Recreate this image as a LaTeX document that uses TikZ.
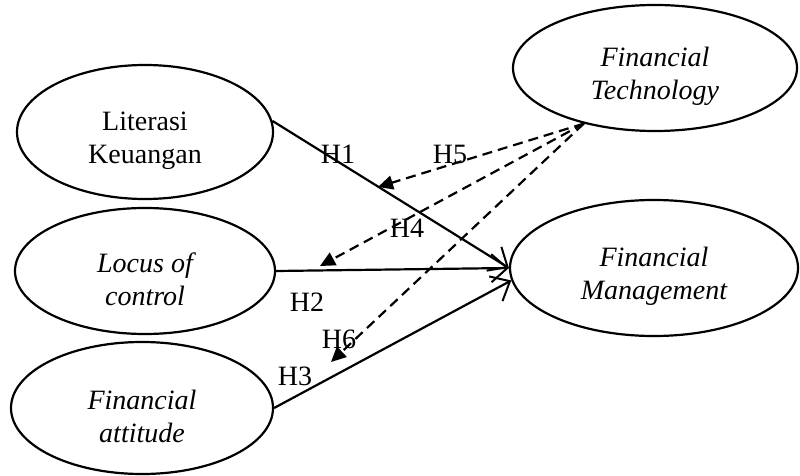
\documentclass[tikz,border=0pt]{standalone}
\usepackage{fontspec}
\setmainfont{Liberation Serif}
\usepackage{tikz}
\usetikzlibrary{shapes.geometric,arrows.meta}

\begin{document}
\begin{tikzpicture}[x=1pt,y=-1pt,
   construct/.style={ellipse, draw=black, line width=2.2pt, inner sep=0pt,
      align=center, text height=69pt, font=\fontsize{28}{33}\selectfont},
   effect/.style={line width=2.2pt, -{Straight Barb[length=16pt,width=28pt,line width=2pt]}},
   moderate/.style={line width=2.2pt, dash pattern=on 10pt off 6pt,
      -{Triangle[length=15pt,width=14pt]}},
   hyp/.style={font=\fontsize{28}{33}\selectfont, inner sep=0pt}]

   \useasboundingbox (0,0) rectangle (800,476);

   % variables
   \node[construct, minimum width=256pt, minimum height=134pt] (LK) at (145,132) {Literasi\\Keuangan};
   \node[construct, minimum width=260pt, minimum height=126pt] (LC) at (145,271) {\itshape Locus of\\\itshape control};
   \node[construct, minimum width=262pt, minimum height=132pt] (FA) at (142,408) {\itshape Financial\\\itshape attitude};
   \node[construct, minimum width=284pt, minimum height=126pt] (FT) at (655,68) {\itshape Financial\\\itshape Technology};
   \node[construct, minimum width=288pt, minimum height=136pt] (FM) at (654,268) {\itshape Financial\\\itshape Management};

   % free ends of the moderating paths
   \coordinate (h5tip) at (378,187);
   \coordinate (h4tip) at (320,266);
   \coordinate (h6tip) at (331,362);

   % direct paths
   \draw[effect] (LK.5) -- (FM.west);
   \draw[effect] (LC.east) -- (FM.west);
   \draw[effect] (FA.east) -- (FM.185);

   % moderation
   \draw[moderate] (FT.218) -- (h5tip);
   \draw[moderate] (FT.218) -- (h4tip);
   \draw[moderate] (FT.218) -- (h6tip);

   % labels
   \node[hyp] (H1) at (338,154) {H1};
   \node[hyp] (H2) at (307,302) {H2};
   \node[hyp] (H3) at (295,376) {H3};
   \node[hyp] (H4) at (407,228) {H4};
   \node[hyp] (H5) at (450,154) {H5};
   \node[hyp] (H6) at (339,339) {H6};

\end{tikzpicture}
\end{document}
